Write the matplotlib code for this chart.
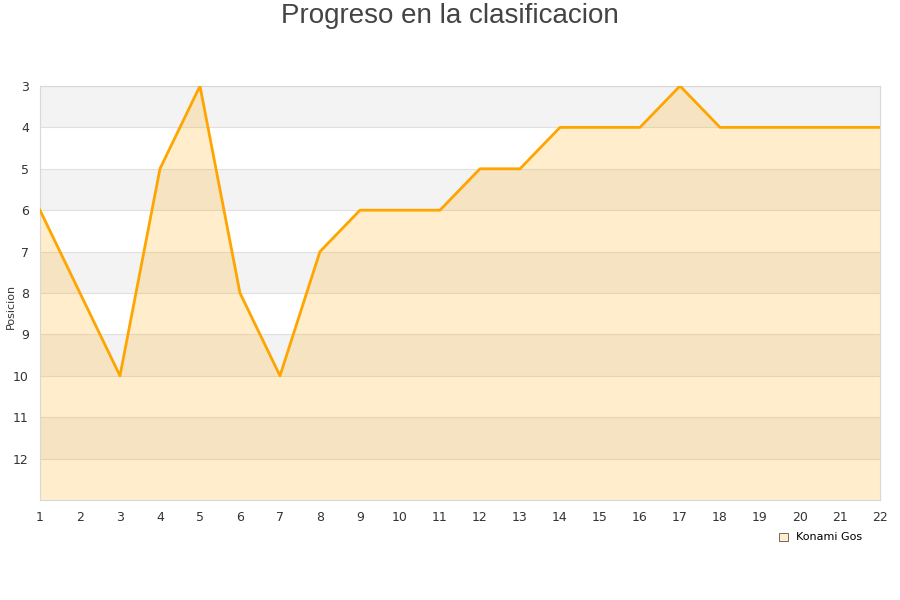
import matplotlib
matplotlib.use('Agg')
import matplotlib.pyplot as plt

jornadas = list(range(1, 23))
posicion = [6, 8, 10, 5, 3, 8, 10, 7, 6, 6, 6, 5, 5, 4, 4, 4, 3, 4, 4, 4, 4, 4]
equipo = 'Konami Gos'
y_ticks = list(range(3, 13))

fig = plt.figure(figsize=(9, 6), dpi=100)
ax = fig.add_axes([0.0444, 0.1667, 0.9334, 0.69])

# bandas alternas de fondo
for y in range(3, 13, 2):
    ax.axhspan(y, y + 1, color='#f3f3f3', zorder=0, lw=0)
for y in y_ticks:
    ax.axhline(y, color='#e0e0e0', lw=0.8, zorder=1)

ax.fill_between(jornadas, posicion, 13, color='#ffa500', alpha=0.2, lw=0, zorder=2)
ax.plot(jornadas, posicion, color='#ffa500', lw=2, zorder=3)

ax.set_xlim(1, 22)
ax.set_ylim(13, 3)
ax.set_xticks(jornadas)
ax.set_yticks(y_ticks)
ax.tick_params(length=0, labelsize=9, colors='#333333', pad=8)
for s in ax.spines.values():
    s.set_color('#d8d8d8')
fig.text(0.012, 0.49, 'Posicion', fontsize=8, color='#333333', rotation=90,
         ha='center', va='center')

fig.text(0.5, 0.974, 'Progreso en la clasificacion', ha='center', va='center',
         fontsize=20, color='#444444', family='Liberation Sans')

# leyenda
fig.patches.append(plt.Rectangle((0.866, 0.0983), 0.009, 0.0133, transform=fig.transFigure,
                                 facecolor='#ffedcc', edgecolor='#555555', lw=0.6))
fig.text(0.885, 0.105, equipo, fontsize=8, color='#000000', va='center')

fig.savefig('out.png')
